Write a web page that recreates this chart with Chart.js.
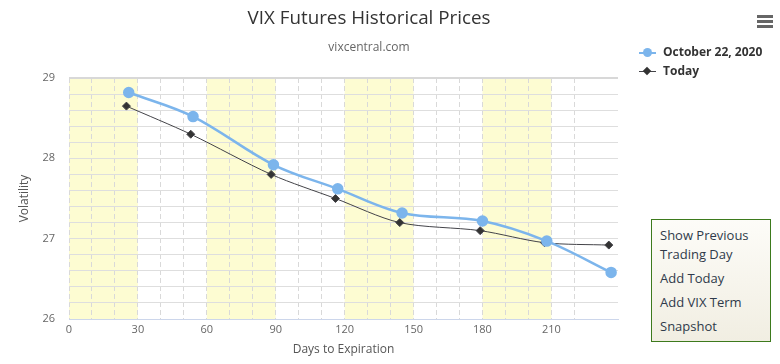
<!DOCTYPE html>
<html>
<head>
<meta charset="utf-8">
<script src="https://cdn.jsdelivr.net/npm/chart.js@4"></script>
<style>
  body { margin: 0; background: #fff; font-family: "Open Sans", sans-serif; }
  #wrap { position: relative; width: 780px; height: 364px; }
  #title { position: absolute; left: 0; width: 738px; top: 4px; text-align: center; font-size: 18.8px; color: #333; }
  #subtitle { position: absolute; left: 0; width: 738px; top: 38px; text-align: center; font-size: 12px; color: #666; }
  .leg { position: absolute; left: 639px; font-size: 12px; font-weight: bold; color: #333; height: 16px; line-height: 16px; }
  .leg .sym { position: absolute; left: 0; top: 8px; width: 17px; height: 2px; }
  .leg span { position: absolute; left: 24px; white-space: nowrap; }
  #burger { position: absolute; left: 757px; top: 15px; width: 16px; }
  #burger div { height: 3px; background: #666; margin-bottom: 2px; }
  #menu { position: absolute; left: 651px; top: 219px; width: 118px; height: 121px; border: 1px solid #3d7a1d;
          background: linear-gradient(#fdfcf8, #f1eee2); font-size: 13px; color: #2f3a4a; }
  #menu div { position: absolute; left: 8px; white-space: nowrap; }
</style>
</head>
<body>
<div id="wrap">
  <canvas id="vixChart" width="780" height="364"></canvas>
  <div id="title">VIX Futures Historical Prices</div>
  <div id="subtitle">vixcentral.com</div>
  <div class="leg" style="top:44px"><div class="sym" style="background:#7cb5ec"></div>
    <div style="position:absolute;left:4px;top:4px;width:9px;height:9px;border-radius:50%;background:#7cb5ec"></div>
    <span>October 22, 2020</span></div>
  <div class="leg" style="top:63px"><div class="sym" style="background:#434348;height:1px;top:8px"></div>
    <div style="position:absolute;left:5px;top:5px;width:6px;height:6px;background:#333;transform:rotate(45deg)"></div>
    <span>Today</span></div>
  <div id="burger"><div></div><div></div><div></div></div>
  <div id="menu">
    <div style="top:6px">Show Previous</div>
    <div style="top:25px">Trading Day</div>
    <div style="top:49px">Add Today</div>
    <div style="top:73px">Add VIX Term</div>
    <div style="top:97px">Snapshot</div>
  </div>
</div>
<script>
// days to expiration + settle prices
const prevDays = [26, 54, 89, 117, 145, 180, 208, 236];
const prevValues = [28.82, 28.52, 27.92, 27.62, 27.32, 27.22, 26.97, 26.58];
const todayDays = [25, 53, 88, 116, 144, 179, 207, 235];
const todayValues = [28.65, 28.30, 27.80, 27.50, 27.20, 27.10, 26.95, 26.92];
const monthBands = [[0, 30], [60, 90], [120, 150], [180, 210]];
const xLabelTicks = [0, 30, 60, 90, 120, 150, 180, 210];
const yLabelTicks = [26, 27, 28, 29];

const bandPlugin = {
  id: 'bands',
  beforeDraw(chart) {
    const { ctx, chartArea, scales } = chart;
    ctx.save();
    ctx.fillStyle = '#fdfcd2';
    monthBands.forEach(b => {
      const x0 = scales.x.getPixelForValue(b[0]);
      const x1 = scales.x.getPixelForValue(b[1]);
      ctx.fillRect(x0, chartArea.top, x1 - x0, chartArea.bottom - chartArea.top);
    });
    ctx.restore();
  }
};

const isTop = v => Math.abs(v - 29) < 1e-6;

const ctx = document.getElementById('vixChart').getContext('2d');
new Chart(ctx, {
  type: 'line',
  data: {
    datasets: [{
      label: 'October 22, 2020',
      data: prevDays.map((d, i) => ({ x: d, y: prevValues[i] })),
      borderColor: '#7cb5ec',
      backgroundColor: '#7cb5ec',
      borderWidth: 2.5,
      pointRadius: 4.5,
      pointStyle: 'circle',
      tension: 0.35,
      fill: false
    }, {
      label: 'Today',
      data: todayDays.map((d, i) => ({ x: d, y: todayValues[i] })),
      borderColor: '#434348',
      backgroundColor: '#333',
      borderWidth: 1,
      pointRadius: 4,
      pointStyle: 'rectRot',
      tension: 0.3,
      fill: false
    }]
  },
  options: {
    responsive: false,
    animation: false,
    layout: { padding: { top: 78, right: 162, left: 0, bottom: 0 } },
    plugins: { legend: { display: false }, tooltip: { enabled: false } },
    scales: {
      x: {
        type: 'linear',
        min: 0,
        max: 239,
        afterFit: s => { s.height = 45; },
        afterBuildTicks: s => { s.ticks = s.ticks.filter(t => t.value % 10 === 0); },
        ticks: {
          stepSize: 10,
          autoSkip: false,
          maxRotation: 0,
          padding: 4,
          color: '#666',
          font: { family: 'Open Sans', size: 11 },
          callback: v => xLabelTicks.includes(v) ? String(v) : ''
        },
        grid: { color: '#d9d9d9', drawTicks: false, lineWidth: 1 },
        border: { color: '#ccd6eb', dash: [5, 3] },
        title: { display: true, text: 'Days to Expiration', color: '#555', font: { family: 'Open Sans', size: 12 }, padding: { top: 4, bottom: 7 } }
      },
      y: {
        min: 26,
        max: 29,
        afterFit: s => { s.width = 69; },
        afterBuildTicks: s => {
          const t = [];
          for (let i = 0; i <= 15; i++) t.push({ value: Math.round((26 + i * 0.2) * 10) / 10 });
          s.ticks = t;
        },
        ticks: {
          autoSkip: false,
          padding: 14,
          color: '#666',
          font: { family: 'Open Sans', size: 11 },
          callback: v => yLabelTicks.includes(v) ? String(v) : ''
        },
        grid: {
          drawTicks: false,
          color: c => isTop(c.tick.value) ? '#d8d8d8' : '#dedede',
          lineWidth: c => isTop(c.tick.value) ? 2 : 1
        },
        border: { display: false },
        title: { display: true, text: 'Volatility', color: '#555', font: { family: 'Open Sans', size: 12 }, padding: { top: 17 } }
      }
    }
  },
  plugins: [bandPlugin]
});
</script>
</body>
</html>
